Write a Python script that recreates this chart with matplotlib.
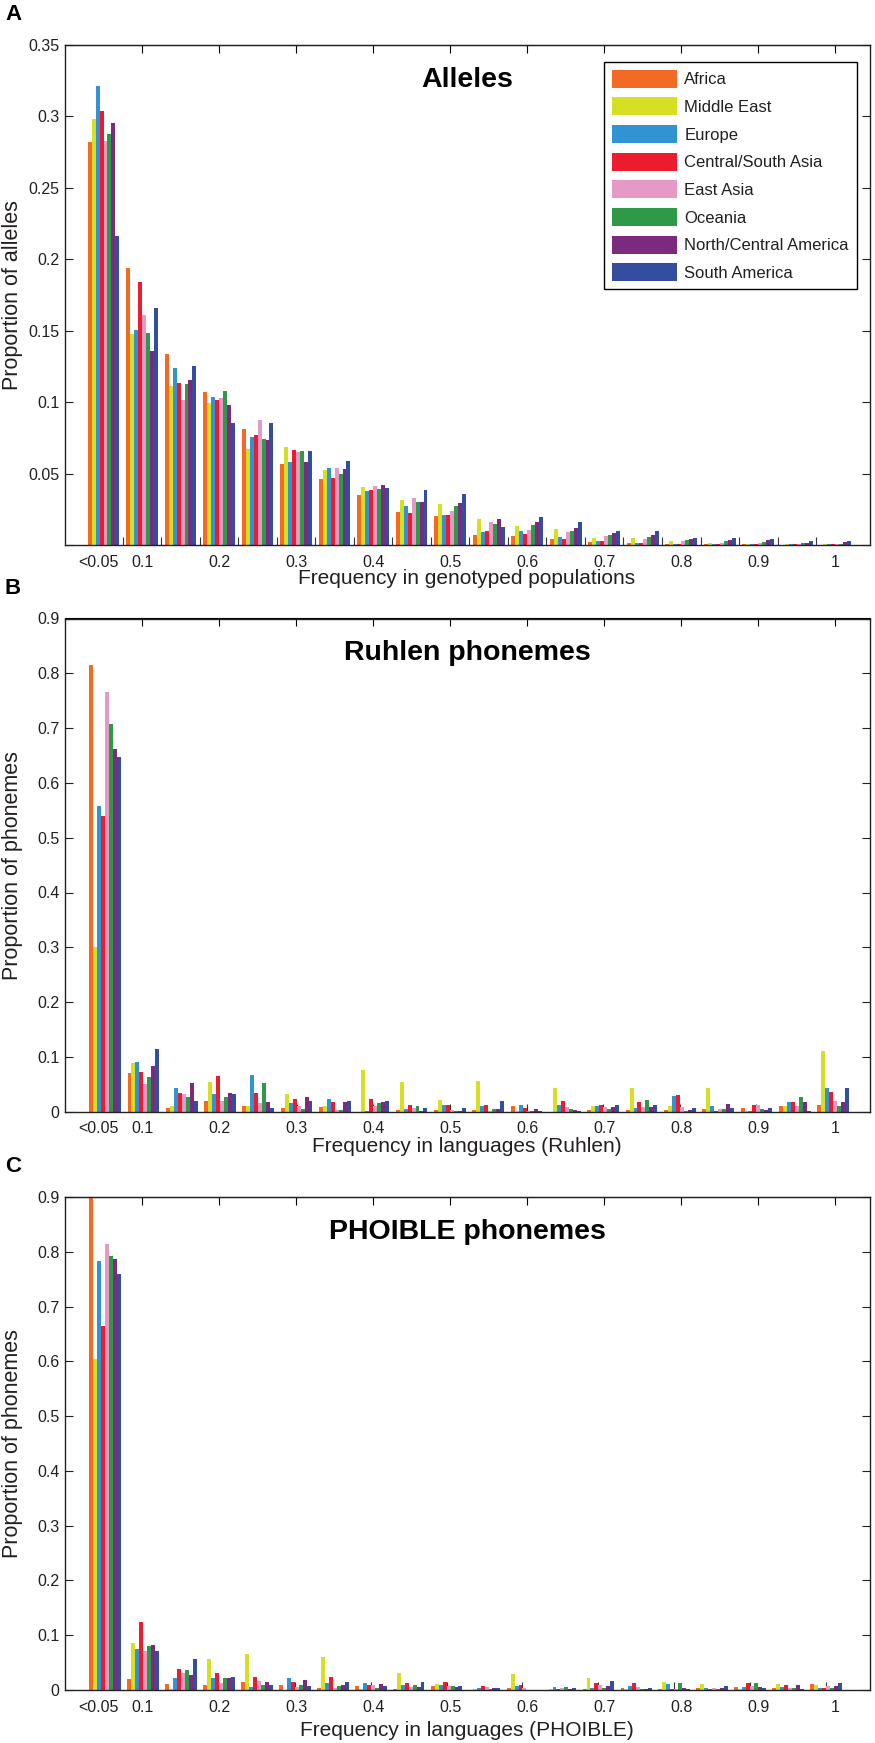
import numpy as np
import matplotlib
matplotlib.use("Agg")
import matplotlib.pyplot as plt

plt.rcParams['font.family'] = ['Liberation Sans', 'DejaVu Sans']

# Regions and their colours
regions = ['Africa', 'Middle East', 'Europe', 'Central/South Asia', 'East Asia',
           'Oceania', 'North/Central America', 'South America']
colors = ['#f26a23', '#d7df23', '#3193d2', '#ec1c2e', '#e49ac4',
          '#2e9a48', '#7b2a7d', '#344d9e']

# Bin centres (frequency) used by each panel
bins_a = np.linspace(0.05, 1.0, 20)
bins_b = np.linspace(0.052, 0.997, 20)
bins_c = np.linspace(0.052, 0.988, 20)

# A: proportion of alleles, one row per region
alleles = [
    [0.282, 0.194, 0.134, 0.107, 0.081, 0.057, 0.046, 0.035, 0.023, 0.020, 0.007, 0.0065, 0.004, 0.0023, 0.0014, 0.0007, 0.0005, 0.0005, 0.0003, 0.0003],
    [0.298, 0.148, 0.1115, 0.0994, 0.067, 0.0686, 0.0525, 0.0404, 0.0315, 0.0287, 0.018, 0.0133, 0.011, 0.0051, 0.0047, 0.0026, 0.0012, 0.0007, 0.0007, 0.0005],
    [0.321, 0.1505, 0.1241, 0.1036, 0.0754, 0.0581, 0.0537, 0.038, 0.0275, 0.0212, 0.0093, 0.0098, 0.0054, 0.0028, 0.0014, 0.0007, 0.0007, 0.0007, 0.0005, 0.0005],
    [0.304, 0.1843, 0.1136, 0.1015, 0.077, 0.0663, 0.0467, 0.0385, 0.0226, 0.0212, 0.010, 0.0077, 0.0042, 0.0026, 0.0014, 0.0007, 0.0007, 0.0007, 0.0005, 0.0005],
    [0.2828, 0.161, 0.1013, 0.1027, 0.0875, 0.0651, 0.0539, 0.0411, 0.0327, 0.0238, 0.0159, 0.0105, 0.0093, 0.0063, 0.0042, 0.0026, 0.0014, 0.0012, 0.0005, 0.0005],
    [0.2875, 0.1482, 0.1125, 0.1076, 0.074, 0.066, 0.0495, 0.0392, 0.0301, 0.0273, 0.0147, 0.014, 0.010, 0.0072, 0.0058, 0.0037, 0.0028, 0.0019, 0.0012, 0.0007],
    [0.2952, 0.1358, 0.1153, 0.0978, 0.0735, 0.0581, 0.0532, 0.0418, 0.0303, 0.0292, 0.018, 0.0159, 0.0117, 0.0082, 0.0068, 0.0042, 0.0035, 0.0033, 0.0014, 0.0019],
    [0.2165, 0.1661, 0.1251, 0.0852, 0.0856, 0.066, 0.0586, 0.0399, 0.0385, 0.0355, 0.0124, 0.0194, 0.0161, 0.0098, 0.0098, 0.0051, 0.0049, 0.004, 0.0028, 0.0028],
]

# B: proportion of Ruhlen phonemes
ruhlen = [
    [0.815, 0.070, 0.006, 0.019, 0.010, 0.006, 0.008, 0.0, 0.004, 0.004, 0.0024, 0.010, 0.0, 0.004, 0.0024, 0.0024, 0.005, 0.0067, 0.010, 0.013],
    [0.300, 0.088, 0.010, 0.055, 0.010, 0.033, 0.011, 0.077, 0.055, 0.022, 0.056, 0.001, 0.044, 0.011, 0.044, 0.011, 0.044, 0.001, 0.010, 0.111],
    [0.557, 0.090, 0.044, 0.033, 0.067, 0.016, 0.0225, 0.001, 0.005, 0.0115, 0.011, 0.0115, 0.0115, 0.011, 0.006, 0.028, 0.011, 0.001, 0.017, 0.044],
    [0.540, 0.072, 0.035, 0.066, 0.035, 0.024, 0.018, 0.024, 0.0115, 0.012, 0.012, 0.0067, 0.019, 0.012, 0.018, 0.030, 0.001, 0.012, 0.018, 0.036],
    [0.765, 0.050, 0.033, 0.019, 0.015, 0.011, 0.004, 0.011, 0.0067, 0.004, 0.001, 0.001, 0.008, 0.008, 0.008, 0.008, 0.005, 0.0115, 0.011, 0.019],
    [0.707, 0.063, 0.026, 0.026, 0.053, 0.005, 0.004, 0.016, 0.0097, 0.001, 0.005, 0.001, 0.005, 0.005, 0.021, 0.001, 0.005, 0.005, 0.026, 0.010],
    [0.661, 0.083, 0.053, 0.035, 0.017, 0.026, 0.017, 0.017, 0.002, 0.001, 0.005, 0.005, 0.004, 0.0085, 0.0085, 0.004, 0.0134, 0.004, 0.017, 0.017],
    [0.648, 0.115, 0.019, 0.032, 0.006, 0.019, 0.019, 0.019, 0.006, 0.006, 0.019, 0.0005, 0.001, 0.013, 0.013, 0.006, 0.006, 0.006, 0.001, 0.044],
]

# C: proportion of PHOIBLE phonemes
phoible = [
    [0.93, 0.020, 0.011, 0.010, 0.014, 0.0085, 0.004, 0.0065, 0.001, 0.008, 0.0, 0.003, 0.0, 0.001, 0.004, 0.001, 0.004, 0.006, 0.004, 0.011],
    [0.605, 0.086, 0.001, 0.056, 0.066, 0.0, 0.061, 0.001, 0.031, 0.011, 0.002, 0.030, 0.001, 0.021, 0.001, 0.015, 0.011, 0.001, 0.011, 0.010],
    [0.784, 0.075, 0.021, 0.021, 0.005, 0.021, 0.012, 0.012, 0.010, 0.0085, 0.003, 0.007, 0.0055, 0.003, 0.007, 0.0116, 0.003, 0.005, 0.005, 0.003],
    [0.665, 0.124, 0.039, 0.031, 0.023, 0.014, 0.0235, 0.010, 0.012, 0.015, 0.0067, 0.009, 0.001, 0.012, 0.012, 0.001, 0.001, 0.012, 0.009, 0.004],
    [0.815, 0.071, 0.031, 0.013, 0.017, 0.005, 0.003, 0.009, 0.005, 0.007, 0.005, 0.003, 0.003, 0.010, 0.005, 0.001, 0.003, 0.0067, 0.003, 0.0067],
    [0.792, 0.080, 0.037, 0.021, 0.009, 0.009, 0.0065, 0.0045, 0.010, 0.007, 0.002, 0.0006, 0.006, 0.003, 0.001, 0.012, 0.001, 0.012, 0.004, 0.003],
    [0.786, 0.083, 0.028, 0.021, 0.014, 0.018, 0.0085, 0.011, 0.006, 0.005, 0.003, 0.0, 0.001, 0.0067, 0.0024, 0.003, 0.004, 0.005, 0.0085, 0.0067],
    [0.759, 0.072, 0.056, 0.023, 0.010, 0.007, 0.014, 0.007, 0.014, 0.008, 0.004, 0.0006, 0.004, 0.0164, 0.004, 0.001, 0.0067, 0.004, 0.001, 0.0134],
]

xtick_pos = [0.043, 0.1, 0.2, 0.3, 0.4, 0.5, 0.6, 0.7, 0.8, 0.9, 1.0]
xtick_labels = ['<0.05', '0.1', '0.2', '0.3', '0.4', '0.5', '0.6', '0.7', '0.8', '0.9', '1']

text_col = '#231f20'
W, H = 875, 1743
fig = plt.figure(figsize=(W / 100, H / 100), dpi=100)

def make_axes(top, bottom):
    left, right = 65, 870
    return fig.add_axes([left / W, (H - bottom) / H, (right - left) / W, (bottom - top) / H])

panels = [
    dict(top=45, bottom=545, data=alleles, bins=bins_a, ymax=0.35, ystep=0.05,
         title='Alleles', ylabel='Proportion of alleles', letter='A',
         xlabel='Frequency in genotyped populations', xlab_y=579,
         marks=np.arange(0.075, 0.98, 0.05)),
    dict(top=618.5, bottom=1111.7, data=ruhlen, bins=bins_b, ymax=0.9, ystep=0.1,
         title='Ruhlen phonemes', ylabel='Proportion of phonemes', letter='B',
         xlabel='Frequency in languages (Ruhlen)', xlab_y=1147,
         marks=bins_b[1::2]),
    dict(top=1197, bottom=1690, data=phoible, bins=bins_c, ymax=0.9, ystep=0.1,
         title='PHOIBLE phonemes', ylabel='Proportion of phonemes', letter='C',
         xlabel='Frequency in languages (PHOIBLE)', xlab_y=1731,
         marks=bins_c[1::2]),
]

bar_w = 0.00514
for p in panels:
    ax = make_axes(p['top'], p['bottom'])
    for i, (vals, col, name) in enumerate(zip(p['data'], colors, regions)):
        ax.bar(p['bins'] + (i - 3.5) * bar_w, vals, width=bar_w, color=col,
               linewidth=0, label=name, zorder=2)
    ax.set_xlim(0, 1.045)
    ax.set_ylim(0, p['ymax'])
    ax.set_axisbelow(True)

    yt = np.round(np.arange(0, p['ymax'] + 1e-9, p['ystep']), 2)
    ax.set_yticks(yt)
    ylabels = ['%g' % v for v in yt]
    if p['letter'] == 'A':
        ylabels[0] = ''
    ax.set_yticklabels(ylabels)
    ax.tick_params(axis='y', direction='in', length=6, width=0.8, left=True, right=True,
                   labelsize=11.5, pad=4, colors=text_col)

    ax.set_xticks(xtick_pos)
    ax.set_xticklabels(xtick_labels)
    ax.set_xticks(p['marks'], minor=True)
    ax.tick_params(axis='x', which='major', length=0, labelsize=11.5, pad=7, colors=text_col)
    ax.tick_params(axis='x', which='minor', direction='in', length=6, width=0.8,
                   color='#333333', bottom=True, top=False)

    top_ax = ax.secondary_xaxis('top')
    top_ax.set_xticks(np.arange(1, 11) / 10)
    top_ax.tick_params(axis='x', direction='in', length=6, width=0.8, labeltop=False)

    for sp in ax.spines.values():
        sp.set_linewidth(1.0)
        sp.set_color('#222222')

    ax.text(0.5, 0.93, p['title'], transform=ax.transAxes, ha='center', va='center',
            fontsize=20.5, fontweight='bold', color='black')
    fig.text(467 / W, 1 - p['xlab_y'] / H, p['xlabel'], ha='center', va='center',
             fontsize=15, color=text_col)
    fig.text(13 / W, 1 - (p['top'] + p['bottom']) / 2 / H, p['ylabel'], rotation=90,
             ha='center', va='center', fontsize=15.5, color=text_col)
    fig.text(5 / W, 1 - (p['top'] - 30) / H, p['letter'], ha='left', va='center',
             fontsize=16, fontweight='bold', color='black')

    if p['letter'] == 'A':
        leg = ax.legend(loc='upper right', bbox_to_anchor=(0.9835, 0.9666), borderaxespad=0,
                        fontsize=12, handlelength=3.95, handleheight=1.3, labelspacing=0.57,
                        handletextpad=0.42, borderpad=0.47, fancybox=False, framealpha=1)
        leg.get_frame().set_edgecolor('black')
        leg.get_frame().set_linewidth(1.0)
        for t in leg.get_texts():
            t.set_color(text_col)

fig.savefig('out.png', dpi=100)
